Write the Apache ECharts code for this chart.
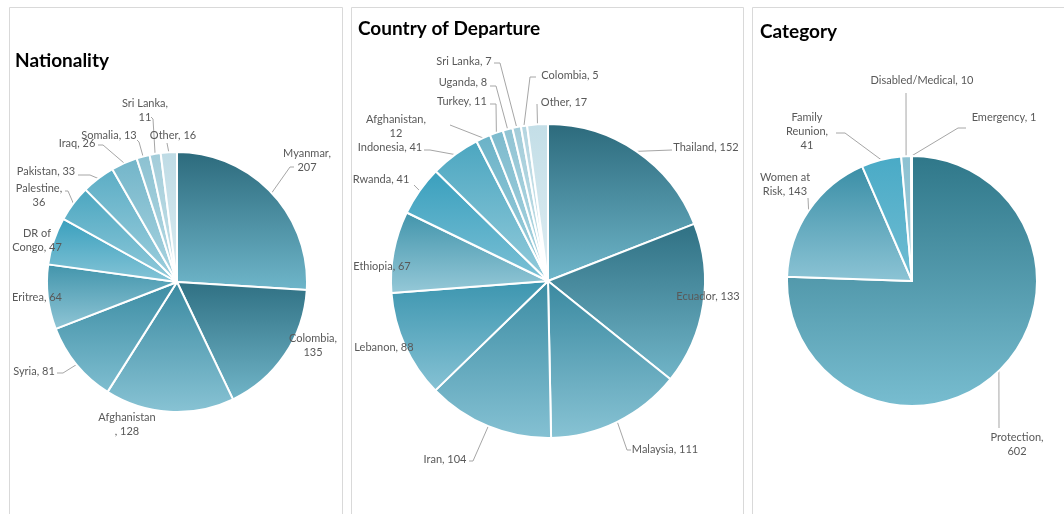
<!DOCTYPE html>
<html>
<head>
<meta charset="utf-8">
<script src="https://cdn.jsdelivr.net/npm/echarts@6/dist/echarts.min.js"></script>
<style>
html,body{margin:0;padding:0;background:#fff;}
#c{width:1064px;height:514px;}
</style>
</head>
<body>
<div id="c"></div>
<script>
// ---- data ----
const nationalityNames = ['Myanmar','Colombia','Afghanistan','Syria','Eritrea','DR of Congo','Palestine','Pakistan','Iraq','Somalia','Sri Lanka','Other'];
const nationalityValues = [207,135,128,81,64,47,36,33,26,13,11,16];

const departureNames = ['Thailand','Ecuador','Malaysia','Iran','Lebanon','Ethiopia','Rwanda','Indonesia','Afghanistan','Turkey','Uganda','Sri Lanka','Colombia','Other'];
const departureValues = [152,133,111,104,88,67,41,41,12,11,8,7,5,17];

const categoryNames = ['Protection','Women at Risk','Family Reunion','Disabled/Medical','Emergency'];
const categoryValues = [602,143,41,10,1];

const chartTitles = ['Nationality','Country of Departure','Category'];

// ---- styling / layout ----
const FONT = 'Lato, "Liberation Sans", Arial, sans-serif';
const natColors = [
  ['#2c6a7c','#6fb6ca'],['#2f7083','#71b5c8'],['#3a89a0','#88c3d4'],['#3c8ca3','#7fbed0'],
  ['#4194ab','#90c6d6'],['#399fbd','#86c5d7'],['#4ba6c0','#93cbdb'],['#5badc5','#a0d0de'],
  ['#72b5c9','#acd5e1'],['#8bc1d1','#bbdce6'],['#a2ccd9','#c9e3ea'],['#bedbe5','#dbecf1']
];
const depColors = [
  ['#2c6a7c','#6fb6ca'],['#2f7083','#71b5c8'],['#3a89a0','#88c3d4'],['#3c8ca3','#85c1d3'],
  ['#3c95af','#86c2d4'],['#4194ab','#96c9d8'],['#399fbd','#7cc1d6'],['#4ba6c0','#93cbdb'],
  ['#6ab2c7','#a5d2df'],['#7cbacd','#b0d7e2'],['#8fc3d3','#bcdde6'],['#a2ccd9','#c9e3ea'],
  ['#b4d5e0','#d3e8ee'],['#c3dee7','#deedf2']
];
const catColors = [
  ['#2f7789','#78bdd0'],['#3a8ea6','#8cc4d5'],['#49aac6','#70bdd3'],['#8dc2d2','#9dcad8'],['#c3dee7','#d0e6ed']
];
const wrapMap1 = {
  'Myanmar':'Myanmar,\n{v}','Colombia':'Colombia,\n{v}','Afghanistan':'Afghanistan\n, {v}',
  'DR of Congo':'DR of\nCongo, {v}','Palestine':'Palestine,\n{v}','Sri Lanka':'Sri Lanka,\n{v}'
};
const wrapMap2 = {'Afghanistan':'Afghanistan,\n{v}'};
const wrapMap3 = {'Family Reunion':'Family\nReunion,\n{v}','Women at Risk':'Women at\nRisk, {v}','Protection':'Protection,\n{v}'};

// label placement (label block centre + leader-line bends), in data order
const place1 = [
  {x:307,y:160,line:[[290,167],[294,167]]},
  {x:313,y:345},
  {x:127,y:424},
  {x:34,y:371,line:[[63,373],[57,373]]},
  {x:37,y:297},
  {x:37,y:240},
  {x:39,y:195,line:[[68,191],[65,191]]},
  {x:46,y:171,line:[[90,175],[78,175]]},
  {x:77,y:143,line:[[103,145],[98,145]]},
  {x:109,y:135,line:[[139,142],[137,140]]},
  {x:145,y:110,line:[[153,119],[151,117]]},
  {x:173,y:135,line:[[167,143]]}
];
const place2 = [
  {x:706,y:147,line:[[672,150]]},
  {x:708,y:296},
  {x:665,y:449,line:[[627,450],[631,450]]},
  {x:445,y:459,line:[[473,461],[469,461]]},
  {x:384,y:347},
  {x:382,y:266},
  {x:381,y:179,line:[[414,185]]},
  {x:390,y:147,line:[[430,150],[424,150]]},
  {x:396,y:126,line:[[450,125]]},
  {x:462,y:101,line:[[496,104],[490,104]]},
  {x:463,y:82,line:[[496,86],[490,86]]},
  {x:464,y:61,line:[[500,63],[494,63]]},
  {x:570,y:75,line:[[530,77],[536,77]]},
  {x:564,y:102,line:[[537,104]]}
];
const place3 = [
  {x:1017,y:444,line:[[999,428]]},
  {x:785,y:184,line:[[808,198]]},
  {x:807,y:131,line:[[845,133],[836,133]]},
  {x:922,y:80,line:[[906,93]]},
  {x:1004,y:117,line:[[958,128],[966,128]]}
];
const placements = [place1, place2, place3];

function grad(c){
  return new echarts.graphic.LinearGradient(0,0,0,1,[{offset:0,color:c[0]},{offset:1,color:c[1]}]);
}
function buildData(names, values, colors, place){
  return names.map((n,i)=>({
    name:n, value:values[i],
    itemStyle:{color:grad(colors[i])},
    labelLine:{show:!!place[i].line}
  }));
}
function fmt(map){
  return function(p){
    const t = map[p.name];
    return t ? t.replace('{v}', p.value) : p.name + ', ' + p.value;
  };
}
const labelStyle = {color:'#595959', fontSize:11, fontFamily:FONT, lineHeight:14};
const lineStyle = {color:'#a6a6a6', width:1};

function pie(idx, center, radius, data, map){
  return {
    type:'pie', center:center, radius:radius, startAngle:90, clockwise:true,
    avoidLabelOverlap:false, animation:false,
    itemStyle:{borderColor:'#fff', borderWidth:2},
    label:Object.assign({show:true, position:'outside', formatter:fmt(map), width:200, align:'center'}, labelStyle),
    labelLine:{show:true, length:8, length2:6, lineStyle:lineStyle},
    labelLayout:function(p){
      const pl = placements[idx][p.dataIndex];
      const res = {x:pl.x, y:pl.y, align:'center', verticalAlign:'middle', width:200, hideOverlap:false, moveOverlap:null};
      if (pl.line && p.labelLinePoints) {
        res.labelLinePoints = [p.labelLinePoints[0]].concat(pl.line);
      }
      return res;
    },
    emphasis:{disabled:true},
    data:data
  };
}

const chart = echarts.init(document.getElementById('c'), null, {renderer:'canvas'});
chart.setOption({
  backgroundColor:'#fff',
  animation:false,
  title:[
    {text:chartTitles[0], left:15, top:51, padding:0, textStyle:{fontFamily:FONT, fontSize:19, fontWeight:'bold', color:'#000'}},
    {text:chartTitles[1], left:358, top:19, padding:0, textStyle:{fontFamily:FONT, fontSize:19, fontWeight:'bold', color:'#000'}},
    {text:chartTitles[2], left:760, top:22, padding:0, textStyle:{fontFamily:FONT, fontSize:19, fontWeight:'bold', color:'#000'}}
  ],
  graphic:[
    {type:'rect', shape:{x:9.5,y:7.5,width:333,height:520}, style:{fill:'none', stroke:'#d9d9d9', lineWidth:1}, silent:true},
    {type:'rect', shape:{x:351.5,y:7.5,width:392,height:520}, style:{fill:'none', stroke:'#d9d9d9', lineWidth:1}, silent:true},
    {type:'rect', shape:{x:752.5,y:7.5,width:330,height:520}, style:{fill:'none', stroke:'#d9d9d9', lineWidth:1}, silent:true}
  ],
  series:[
    pie(0, [177,282], 130, buildData(nationalityNames, nationalityValues, natColors, place1), wrapMap1),
    pie(1, [548,281], 157, buildData(departureNames, departureValues, depColors, place2), wrapMap2),
    pie(2, [912,281], 125, buildData(categoryNames, categoryValues, catColors, place3), wrapMap3)
  ]
});
</script>
</body>
</html>
